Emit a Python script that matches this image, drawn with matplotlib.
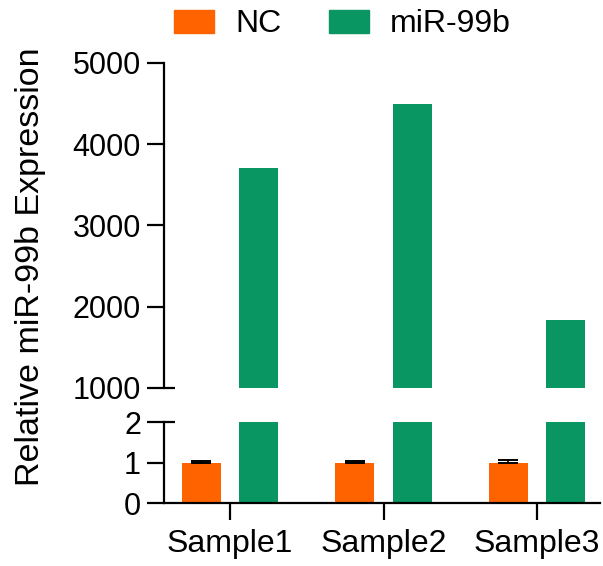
import matplotlib
matplotlib.use('Agg')
import matplotlib.pyplot as plt
import numpy as np
from matplotlib.patches import Patch

plt.rcParams['font.family'] = ['Liberation Sans', 'DejaVu Sans']

# data
samples = ['Sample1', 'Sample2', 'Sample3']
nc = [1.0, 1.0, 1.0]
nc_err = [0.04, 0.04, 0.06]
mir = [3710, 4490, 1840]

orange = '#FF6300'
green = '#0A9662'

x = np.arange(len(samples))
w = 0.254
off = 0.186
lw = 1.6

fig = plt.figure(figsize=(6.03, 5.66), dpi=100)
ax_top = fig.add_axes([0.272, 0.3145, 0.723, 0.5742])
ax_bot = fig.add_axes([0.272, 0.1113, 0.723, 0.1431])

for ax in (ax_top, ax_bot):
    ax.bar(x - off, nc, width=w, color=orange, zorder=2)
    ax.bar(x + off, mir, width=w, color=green, zorder=2)
    ax.errorbar(x - off, nc, yerr=[np.zeros(len(nc)), nc_err], fmt='none',
                ecolor='black', elinewidth=1.2, capsize=7, capthick=1.4, zorder=3)
    ax.set_xlim(-0.43, 2.41)
    ax.spines['top'].set_visible(False)
    ax.spines['right'].set_visible(False)
    ax.spines['left'].set_linewidth(lw)
    ax.spines['bottom'].set_linewidth(lw)
    ax.tick_params(axis='y', length=12.5, width=lw, labelsize=22, pad=4)

ax_top.set_ylim(1000, 5000)
ax_top.set_yticks([1000, 2000, 3000, 4000, 5000])
ax_top.spines['bottom'].set_visible(False)
ax_top.set_xticks([])

ax_bot.set_ylim(0, 2)
ax_bot.set_yticks([0, 1, 2])
ax_bot.set_xticks(x)
ax_bot.set_xticklabels(samples)
ax_bot.tick_params(axis='x', length=12.5, width=lw, labelsize=23, pad=6)

# break marks
ax_top.plot([0, 0.025], [0, 0], transform=ax_top.transAxes, color='black',
            lw=lw, clip_on=False, solid_capstyle='butt')
ax_bot.plot([0, 0.025], [1, 1], transform=ax_bot.transAxes, color='black',
            lw=lw, clip_on=False, solid_capstyle='butt')

fig.text(0.05, 0.528, 'Relative miR-99b Expression', rotation=90,
         fontsize=24.5, ha='center', va='center')

handles = [Patch(color=orange), Patch(color=green)]
fig.legend(handles, ['NC', 'miR-99b'], loc='center', bbox_to_anchor=(0.568, 0.957),
           ncol=2, frameon=False, fontsize=23, handlelength=1.25, handleheight=0.72,
           handletextpad=0.65, columnspacing=1.5)

fig.savefig('out.png', dpi=100)
